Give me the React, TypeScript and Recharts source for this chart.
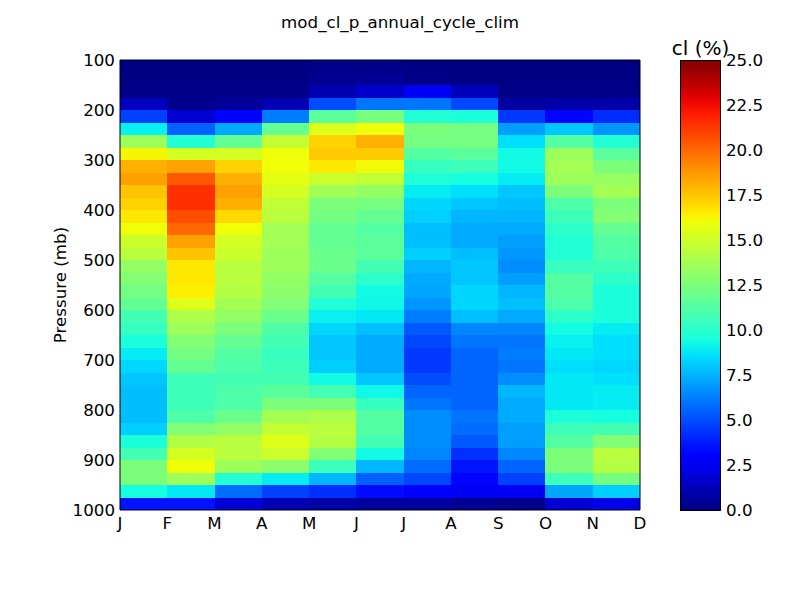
import React from 'react';
import { ComposedChart, XAxis, YAxis, ReferenceArea, Scatter } from 'recharts';

// month letters at the cell edges (pcolor drops the last column)
const monthTicks = ['J', 'F', 'M', 'A', 'M', 'J', 'J', 'A', 'S', 'O', 'N', 'D'];
const monthIdx = [0, 1, 2, 3, 4, 5, 6, 7, 8, 9, 10, 11];
const pressureTicks = [100, 200, 300, 400, 500, 600, 700, 800, 900, 1000];
const colorTicks = [0, 2.5, 5, 7.5, 10, 12.5, 15, 17.5, 20, 22.5, 25];

// cell edges in mb, top to bottom
const pressureEdges = [
  100, 125, 150, 175, 200, 225, 250, 275, 300, 325, 350, 375, 400, 425, 450, 475, 500, 525, 550,
  575, 600, 625, 650, 675, 700, 725, 750, 775, 800, 825, 850, 875, 900, 925, 950, 975, 1000,
];

// cloud fraction (%) per month column, from 100 mb down to 1000 mb
const clJan = [0.1, 0.1, 0.2, 1.4, 4.7, 9.0, 13.5, 16.2, 18.1, 18.5, 17.6, 17.2, 16.6, 16.0, 14.9, 14.4, 13.2, 12.7, 12.3, 11.8, 10.8, 10.4, 9.6, 8.9, 8.4, 8.0, 7.8, 7.8, 7.8, 8.2, 9.6, 10.8, 12.5, 12.5, 9.4, 3.6];
const clFeb = [0.1, 0.1, 0.2, 0.3, 1.8, 5.5, 9.8, 15.2, 18.5, 20.4, 21.5, 21.5, 20.7, 20.0, 18.5, 17.6, 16.6, 16.6, 16.4, 15.5, 14.0, 13.5, 12.7, 12.3, 11.8, 10.6, 10.6, 10.6, 11.1, 12.7, 14.2, 15.2, 16.0, 13.5, 8.8, 3.6];
const clMar = [0.1, 0.1, 0.2, 0.6, 3.0, 7.3, 11.8, 15.2, 17.2, 18.1, 18.5, 18.1, 17.0, 16.0, 15.2, 14.9, 14.4, 14.4, 14.2, 13.7, 13.2, 12.5, 11.8, 11.3, 11.1, 10.8, 11.1, 11.1, 12.0, 13.2, 14.4, 14.4, 13.5, 9.8, 5.8, 1.9];
const clApr = [0.1, 0.1, 0.2, 1.1, 6.2, 11.8, 14.7, 16.0, 16.0, 15.7, 15.2, 14.6, 14.4, 13.7, 13.7, 13.5, 13.5, 13.2, 13.0, 12.7, 12.0, 11.1, 10.8, 10.4, 10.6, 10.8, 11.5, 12.5, 13.7, 14.7, 15.5, 14.9, 13.0, 8.9, 4.7, 1.1];
const clMay = [0.2, 0.4, 1.1, 5.0, 11.5, 15.5, 17.2, 17.4, 16.6, 14.9, 13.6, 12.5, 12.3, 11.8, 11.8, 12.0, 12.0, 11.3, 10.8, 9.8, 9.0, 8.4, 8.0, 8.0, 8.2, 9.3, 10.8, 12.5, 14.0, 14.4, 14.2, 12.7, 10.6, 7.6, 4.3, 0.9];
const clJun = [0.2, 0.5, 1.6, 6.0, 12.4, 16.0, 18.1, 17.4, 16.1, 14.6, 13.2, 12.3, 11.8, 11.3, 11.5, 11.5, 10.8, 10.1, 9.3, 9.2, 8.8, 7.8, 7.3, 7.3, 7.3, 8.0, 9.2, 10.4, 11.3, 11.3, 10.8, 9.3, 7.6, 5.5, 3.4, 0.7];
const clJul = [0.1, 0.2, 2.5, 6.0, 9.8, 12.5, 12.3, 11.3, 10.4, 9.7, 8.9, 8.4, 8.2, 7.8, 7.8, 8.2, 7.6, 7.3, 7.2, 6.8, 6.2, 5.3, 4.9, 4.5, 4.5, 5.0, 5.6, 6.0, 6.6, 6.6, 6.6, 6.4, 5.8, 4.9, 3.0, 0.7];
const clAug = [0.1, 0.1, 1.3, 4.9, 9.6, 12.3, 12.3, 11.5, 10.6, 9.4, 8.6, 8.0, 7.6, 7.3, 7.3, 7.8, 8.0, 8.0, 8.4, 8.4, 7.8, 6.4, 6.0, 5.6, 5.6, 5.6, 5.6, 5.6, 6.0, 5.8, 5.3, 4.3, 3.6, 3.2, 2.5, 0.4];
const clSep = [0.1, 0.1, 0.2, 0.7, 4.5, 7.0, 8.6, 9.3, 9.3, 8.9, 8.0, 7.8, 7.6, 7.3, 7.0, 6.8, 6.6, 7.0, 7.6, 7.8, 7.3, 6.4, 6.0, 6.2, 6.0, 6.6, 7.6, 7.3, 7.3, 7.0, 7.0, 6.4, 5.6, 4.7, 2.5, 0.3];
const clOct = [0.1, 0.1, 0.2, 0.9, 3.2, 8.0, 11.3, 13.5, 13.7, 13.5, 12.5, 11.1, 10.6, 10.1, 9.8, 9.8, 10.4, 11.3, 11.3, 11.1, 10.1, 9.3, 9.0, 8.8, 8.6, 8.8, 8.8, 8.8, 9.6, 10.6, 11.3, 12.5, 12.5, 10.6, 7.2, 1.8];
const clNov = [0.1, 0.1, 0.2, 0.9, 4.2, 6.8, 9.8, 11.5, 12.5, 13.3, 13.7, 12.5, 12.7, 11.8, 11.3, 11.1, 10.6, 10.1, 9.6, 9.6, 9.6, 8.9, 8.6, 8.6, 8.4, 8.6, 8.9, 8.9, 9.4, 10.8, 12.7, 14.4, 14.2, 12.3, 8.2, 2.3];

const columns = [clJan, clFeb, clMar, clApr, clMay, clJun, clJul, clAug, clSep, clOct, clNov];

// matplotlib jet segment data
const jetRed = [[0, 0], [0.35, 0], [0.66, 1], [0.89, 1], [1, 0.5]];
const jetGreen = [[0, 0], [0.125, 0], [0.375, 1], [0.64, 1], [0.91, 0], [1, 0]];
const jetBlue = [[0, 0.5], [0.11, 1], [0.34, 1], [0.65, 0], [1, 0]];

const seg = (pts: number[][], t: number) => {
  for (let i = 0; i < pts.length - 1; i++) {
    const [x0, y0] = pts[i];
    const [x1, y1] = pts[i + 1];
    if (t <= x1) return y0 + ((y1 - y0) * (t - x0)) / (x1 - x0);
  }
  return pts[pts.length - 1][1];
};

const jet = (v: number) => {
  const t = Math.max(0, Math.min(1, v / 25));
  const c = (x: number) => Math.round(x * 255);
  return `rgb(${c(seg(jetRed, t))},${c(seg(jetGreen, t))},${c(seg(jetBlue, t))})`;
};

const cells = columns.flatMap((col, i) =>
  col.map((v, j) => ({
    x1: monthIdx[i],
    x2: monthIdx[i + 1],
    y1: pressureEdges[j],
    y2: pressureEdges[j + 1],
    v,
  }))
);

const colorPoints = colorTicks.map((v) => ({ c: 0, v }));
const gradStops = Array.from({ length: 51 }, (_, k) => k / 50);

const tickFont = { fill: '#000', fontSize: 16.7 };
const line = { stroke: '#000', strokeWidth: 1 };
const noShape = () => <g />;
const layer = { position: 'absolute' as const, left: 0, top: 0 };

export default function App() {
  return (
    <div
      style={{
        position: 'absolute',
        left: 0,
        top: 0,
        width: 800,
        height: 600,
        background: '#fff',
        fontFamily: '"DejaVu Sans", sans-serif',
      }}
    >
      <style>{'.recharts-reference-area-rect{shape-rendering:crispEdges}'}</style>
      <div
        style={{
          position: 'absolute',
          left: 0,
          width: 800,
          top: 14,
          textAlign: 'center',
          fontSize: 16.7,
          lineHeight: 1,
        }}
      >
        mod_cl_p_annual_cycle_clim
      </div>
      <div
        style={{
          position: 'absolute',
          left: 60,
          top: 285,
          fontSize: 16.7,
          lineHeight: 1,
          whiteSpace: 'nowrap',
          transform: 'translate(-50%, -50%) rotate(-90deg)',
        }}
      >
        Pressure (mb)
      </div>
      <div
        style={{
          position: 'absolute',
          left: 650,
          width: 101,
          top: 38,
          textAlign: 'center',
          fontSize: 20,
          lineHeight: 1,
        }}
      >
        cl (%)
      </div>

      {/* heatmap cells with tick labels */}
      <div style={layer}>
        <ComposedChart width={800} height={600} data={cells} margin={{ top: 60, right: 160, bottom: 60, left: 60 }}>
          {cells.map((c, k) => (
            <ReferenceArea
              key={k}
              xAxisId="x"
              yAxisId="y"
              x1={c.x1}
              x2={c.x2}
              y1={c.y1}
              y2={c.y2}
              fill={jet(c.v)}
              fillOpacity={1}
              stroke="none"
              ifOverflow="visible"
            />
          ))}
          <Scatter xAxisId="x" yAxisId="y" dataKey="y1" shape={noShape} isAnimationActive={false} />
          <XAxis
            xAxisId="x"
            dataKey="x1"
            type="number"
            domain={[0, 11]}
            ticks={monthIdx}
            tickFormatter={(v) => monthTicks[v]}
            interval={0}
            height={30}
            tickLine={false}
            tickSize={0}
            tickMargin={7}
            axisLine={false}
            tick={tickFont}
          />
          <YAxis
            yAxisId="y"
            dataKey="y1"
            type="number"
            domain={[100, 1000]}
            reversed
            ticks={pressureTicks}
            interval={0}
            width={60}
            tickLine={false}
            tickSize={0}
            tickMargin={5}
            axisLine={false}
            tick={tickFont}
          />
        </ComposedChart>
      </div>

      {/* frame and inward ticks drawn over the cells */}
      <div style={layer}>
        <ComposedChart width={800} height={600} data={cells} margin={{ top: 60, right: 160, bottom: 90, left: 120 }}>
          <Scatter xAxisId="xb" yAxisId="yl" dataKey="y1" shape={noShape} isAnimationActive={false} />
          <Scatter xAxisId="xt" yAxisId="yr" dataKey="y1" shape={noShape} isAnimationActive={false} />
          <XAxis xAxisId="xb" dataKey="x1" type="number" domain={[0, 11]} ticks={monthIdx} interval={0} mirror tick={false} tickSize={6} axisLine={line} tickLine={line} />
          <XAxis xAxisId="xt" dataKey="x1" orientation="top" type="number" domain={[0, 11]} ticks={monthIdx} interval={0} mirror tick={false} tickSize={6} axisLine={line} tickLine={line} />
          <YAxis yAxisId="yl" dataKey="y1" type="number" domain={[100, 1000]} reversed ticks={pressureTicks} interval={0} mirror tick={false} tickSize={6} axisLine={line} tickLine={line} />
          <YAxis yAxisId="yr" dataKey="y1" orientation="right" type="number" domain={[100, 1000]} reversed ticks={pressureTicks} interval={0} mirror tick={false} tickSize={6} axisLine={line} tickLine={line} />
        </ComposedChart>
      </div>

      {/* colorbar */}
      <div style={{ position: 'absolute', left: 680, top: 0 }}>
        <ComposedChart width={100} height={600} data={colorPoints} margin={{ top: 60, right: 0, bottom: 90, left: 0 }}>
          <defs>
            <linearGradient id="jetGrad" x1="0" y1="1" x2="0" y2="0">
              {gradStops.map((t) => (
                <stop key={t} offset={t} stopColor={jet(t * 25)} />
              ))}
            </linearGradient>
          </defs>
          <ReferenceArea xAxisId="cx" yAxisId="cy" x1={0} x2={1} y1={0} y2={25} fill="url(#jetGrad)" fillOpacity={1} stroke="#000" strokeWidth={1} ifOverflow="visible" />
          <Scatter xAxisId="cx" yAxisId="cy" dataKey="v" shape={noShape} isAnimationActive={false} />
          <XAxis xAxisId="cx" dataKey="c" type="number" domain={[0, 1]} hide />
          <YAxis
            yAxisId="cy"
            dataKey="v"
            orientation="right"
            type="number"
            domain={[0, 25]}
            ticks={colorTicks}
            interval={0}
            width={60}
            tickLine={false}
            tickSize={0}
            tickMargin={6}
            axisLine={false}
            tick={tickFont}
            tickFormatter={(v) => v.toFixed(1)}
          />
        </ComposedChart>
      </div>
      <div style={{ position: 'absolute', left: 680, top: 0 }}>
        <ComposedChart width={100} height={600} data={colorPoints} margin={{ top: 60, right: 60, bottom: 90, left: 0 }}>
          <Scatter xAxisId="cx" yAxisId="cm" dataKey="v" shape={noShape} isAnimationActive={false} />
          <XAxis xAxisId="cx" dataKey="c" type="number" domain={[0, 1]} hide />
          <YAxis yAxisId="cm" dataKey="v" orientation="right" type="number" domain={[0, 25]} ticks={colorTicks} interval={0} mirror tick={false} tickSize={6} axisLine={false} tickLine={line} />
        </ComposedChart>
      </div>
    </div>
  );
}
